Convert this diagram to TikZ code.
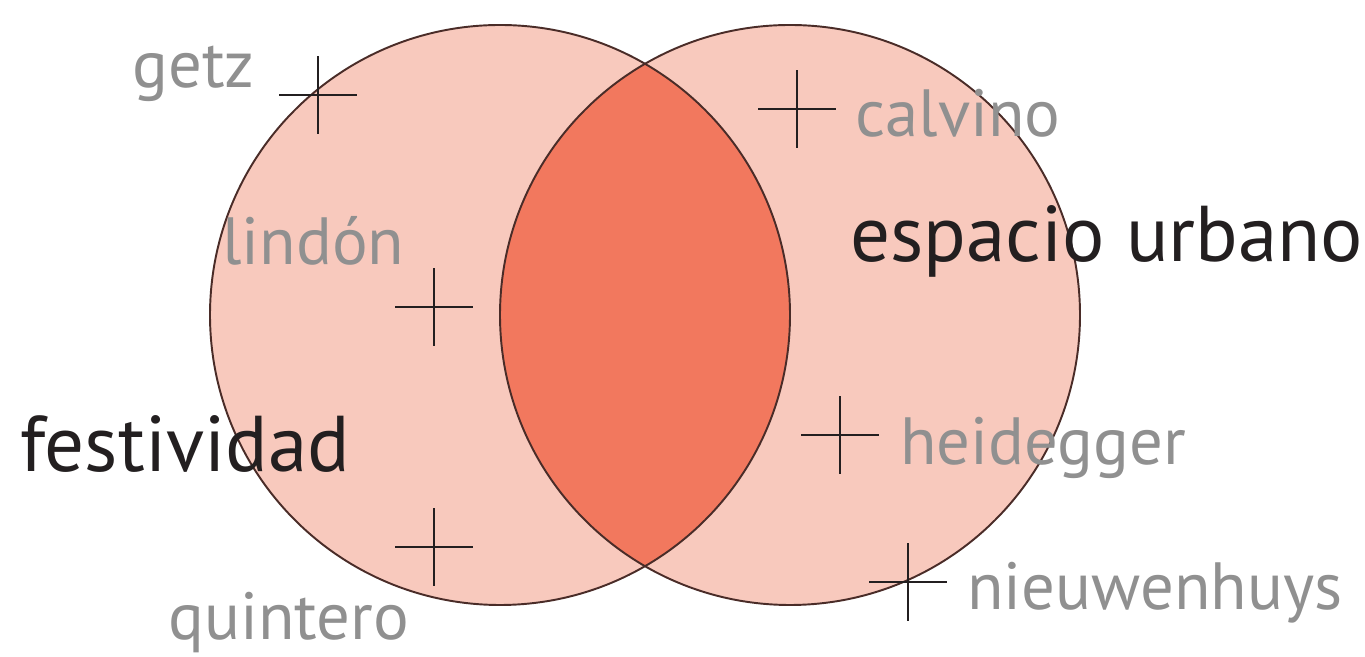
\documentclass[tikz,border=0pt]{standalone}
\usepackage{fontspec}
\newfontfamily\vennfont{PT Sans}
\usetikzlibrary{positioning,calc}
\definecolor{venlight}{HTML}{F8C9BD}
\definecolor{vendark}{HTML}{F2785E}
\definecolor{venline}{HTML}{4A2C28}
\definecolor{autor}{HTML}{909090}
\definecolor{tema}{HTML}{231F20}
\tikzstyle{author} = [anchor=base west, inner sep=0pt, text=autor, font=\vennfont\fontsize{38}{38}\selectfont]
\tikzstyle{topic} = [anchor=base west, inner sep=0pt, text=tema, font=\vennfont\fontsize{45}{45}\selectfont]
\tikzstyle{mark line} = [line width=1.2pt, draw=tema]
\newcommand{\crossat}[1]{\draw[mark line] ($(#1)+(-0.78,0)$) -- ($(#1)+(0.78,0)$); \draw[mark line] ($(#1)+(0,-0.78)$) -- ($(#1)+(0,0.78)$); }

\begin{document}
\begin{tikzpicture}
\useasboundingbox (0,0) rectangle (27.3,13.14);

% circles
\coordinate (left) at (10.0,6.84);
\coordinate (right) at (15.8,6.84);
\fill[venlight] (left) circle (5.8);
\fill[venlight] (right) circle (5.8);
\begin{scope}
\clip (left) circle (5.8);
\fill[vendark] (right) circle (5.8);
\end{scope}
\draw[venline, line width=1.1pt] (left) circle (5.8);
\draw[venline, line width=1.1pt] (right) circle (5.8);

% crosses
\coordinate (c1) at (6.36,11.24);
\coordinate (c2) at (8.68,7.00);
\coordinate (c3) at (8.68,2.20);
\coordinate (c4) at (15.94,10.96);
\coordinate (c5) at (16.80,4.44);
\coordinate (c6) at (18.16,1.50);
\crossat{c1}
\crossat{c2}
\crossat{c3}
\crossat{c4}
\crossat{c5}
\crossat{c6}

% labels
\node (getz) [author] at (2.64,11.38) {getz};
\node (lindon) [author] at (4.44,7.84) {lindón};
\node (quintero) [author] at (3.36,0.34) {quintero};
\node (calvino) [author] at (17.10,10.40) {calvino};
\node (heidegger) [author] at (18.00,3.84) {heidegger};
\node (nieuwenhuys) [author] at (19.34,0.94) {nieuwenhuys};
\node (festividad) [topic] at (0.40,3.70) {festividad};
\node (espacio) [topic] at (17.00,7.90) {espacio urbano};

\end{tikzpicture}
\end{document}
